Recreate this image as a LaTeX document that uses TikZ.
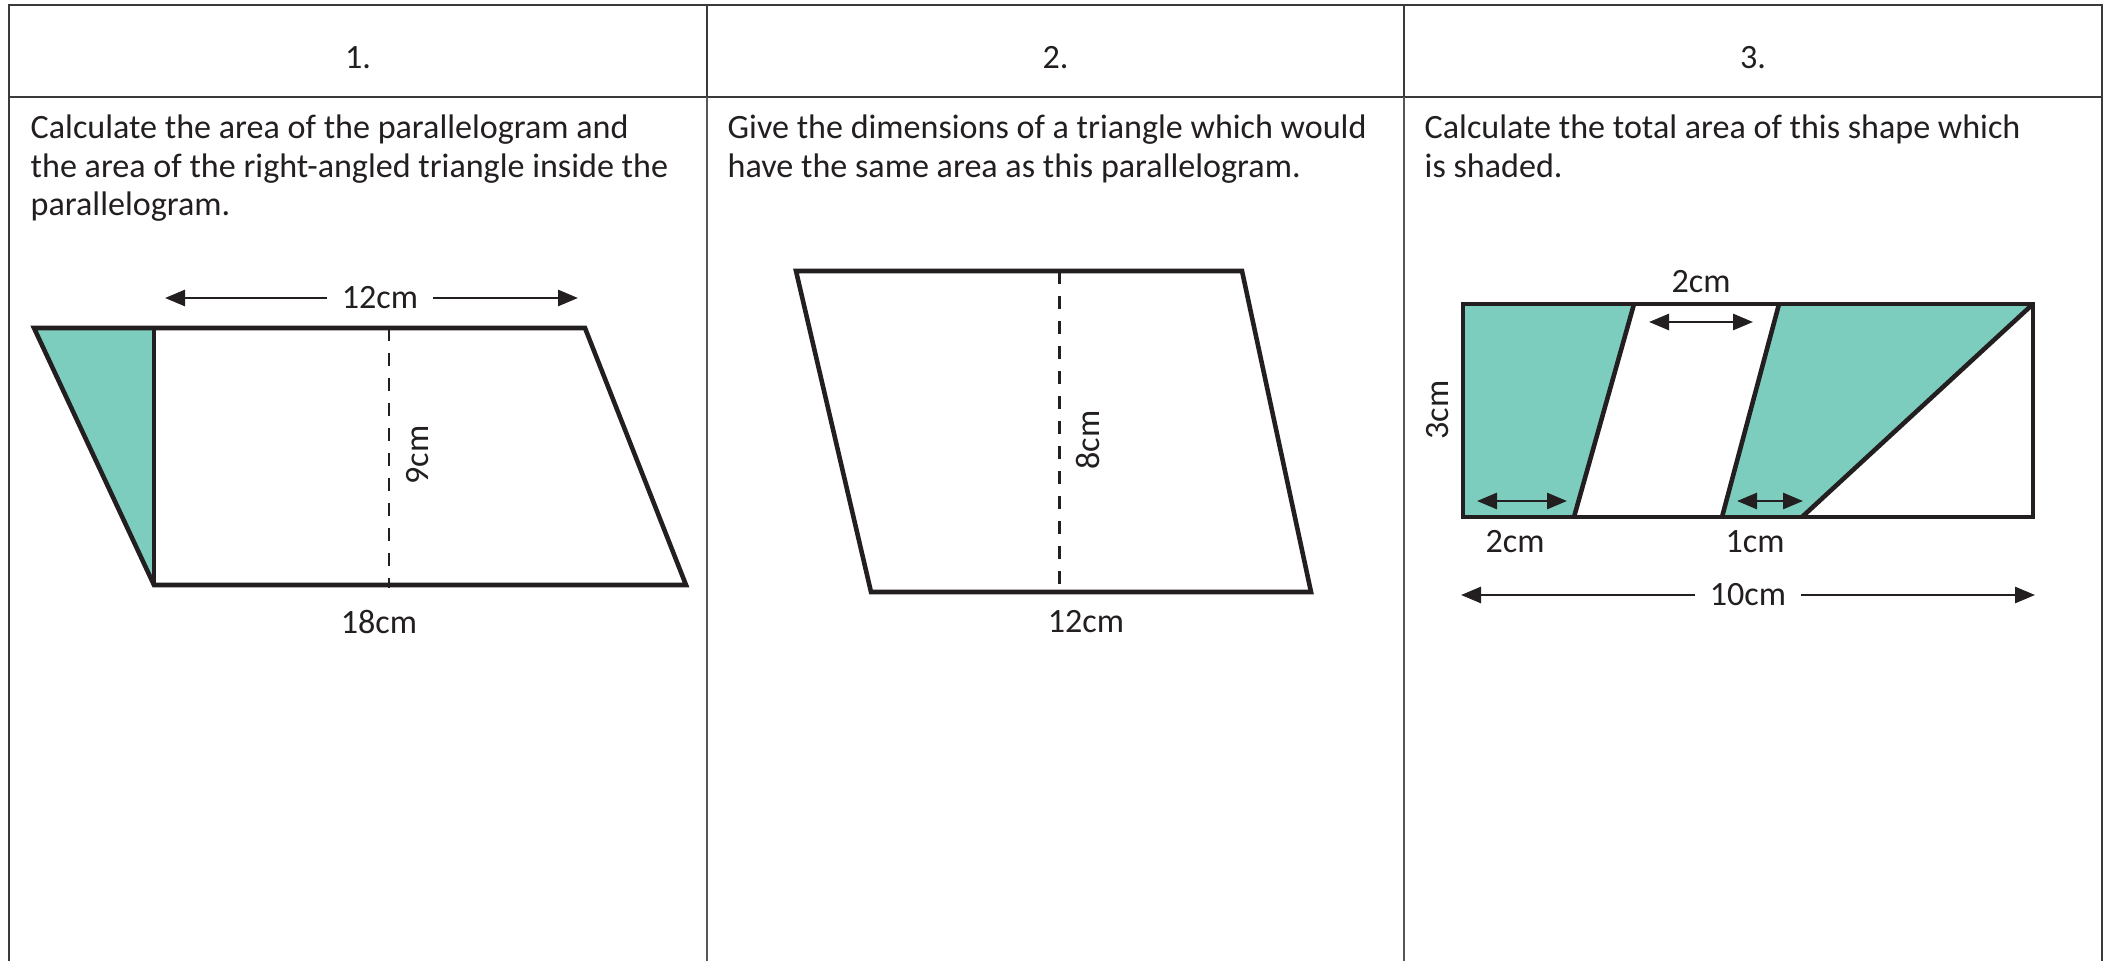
\documentclass[tikz,border=0pt]{standalone}
\usepackage{fontspec}
\setmainfont{Carlito}
\usetikzlibrary{arrows.meta}
\definecolor{inkdark}{HTML}{231F20}
\definecolor{shadeteal}{HTML}{7DCDBE}
\definecolor{rulegrey}{HTML}{3A3A3A}
\newcommand{\qfont}{\fontsize{9.7pt}{11pt}\selectfont}
\tikzset{
  outline/.style={draw=inkdark, line width=1.3pt, line join=miter},
  shaded/.style={fill=shadeteal},
  heightline/.style={draw=inkdark, line width=0.6pt, dash pattern=on 0.13cm off 0.12cm},
  dimarrow/.style={draw=inkdark, line width=0.8pt, -{Triangle[length=0.2cm, width=0.16cm]}},
  bothways/.style={draw=inkdark, line width=0.8pt,
    {Triangle[length=0.2cm, width=0.16cm]}-{Triangle[length=0.2cm, width=0.16cm]}},
  dimlabel/.style={font=\qfont, text=inkdark, inner sep=0.14cm},
  qline/.style={font=\qfont, text=inkdark, anchor=base west, inner sep=0},
}

\begin{document}
\begin{tikzpicture}[x=0.1mm, y=-0.1mm]
  \useasboundingbox (0,0) rectangle (2109,961);
  % table frame
  \draw[rulegrey, line width=0.6pt] (9,961) -- (9,5) -- (2102,5) -- (2102,961);
  \draw[rulegrey, line width=0.6pt] (9,97) -- (2102,97);
  \foreach \cx in {707,1404}{%
    \draw[rulegrey, line width=0.6pt] (\cx,5) -- (\cx,97);
    \draw[rulegrey!85, line width=0.35pt] (\cx,97) -- (\cx,961);}
  \foreach \n/\cx in {1/358, 2/1055.5, 3/1753}{%
    \node[font=\qfont, text=inkdark] (head\n) at (\cx,58) {\n.};}

  % questions
  \foreach \ln [count=\i] in {Calculate the area of the parallelogram and,
      the area of the right-angled triangle inside the, parallelogram.}{%
    \node[qline] (qa\i) at (30,{139+38.5*(\i-1)}) {\ln};}
  \foreach \ln [count=\i] in {Give the dimensions of a triangle which would,
      have the same area as this parallelogram.}{%
    \node[qline] (qb\i) at (727,{139+38.5*(\i-1)}) {\ln};}
  \foreach \ln [count=\i] in {Calculate the total area of this shape which,
      is shaded.}{%
    \node[qline] (qc\i) at (1424,{139+38.5*(\i-1)}) {\ln};}

  % shape 1
  \coordinate (pa1) at (34,328);
  \coordinate (pa2) at (585,328);
  \coordinate (pa3) at (686,585);
  \coordinate (pa4) at (154,585);
  \coordinate (pa5) at (154,328);
  \fill[shaded] (pa1) -- (pa5) -- (pa4) -- cycle;
  \draw[outline] (pa1) -- (pa2) -- (pa3) -- (pa4) -- cycle;
  \draw[outline] (pa5) -- (pa4);
  \coordinate (hat) at (389,328);
  \coordinate (hab) at (389,588);
  \draw[heightline] (hat) -- (hab);
  \node[dimlabel, rotate=90] (ha9) at (418,455) {9cm};
  \node[dimlabel] (wa12) at (380,298) {12cm};
  \coordinate (wa12l) at (165,298);
  \coordinate (wa12r) at (578,298);
  \draw[dimarrow] (wa12.west) -- (wa12l);
  \draw[dimarrow] (wa12.east) -- (wa12r);
  \node[dimlabel] (ba18) at (379,622) {18cm};

  % shape 2
  \coordinate (pb1) at (796,271);
  \coordinate (pb2) at (1242,271);
  \coordinate (pb3) at (1311,592);
  \coordinate (pb4) at (871,592);
  \draw[outline] (pb1) -- (pb2) -- (pb3) -- (pb4) -- cycle;
  \coordinate (hbt) at (1059.5,271);
  \coordinate (hbb) at (1059.5,592);
  \draw[heightline] (hbt) -- (hbb);
  \node[dimlabel, rotate=90] (hb8) at (1088,440) {8cm};
  \node[dimlabel] (bb12) at (1086,622) {12cm};

  % shape 3
  \coordinate (rc1) at (1463,304);
  \coordinate (rc2) at (2033,304);
  \coordinate (rc3) at (2033,517);
  \coordinate (rc4) at (1463,517);
  \coordinate (sa) at (1634,304);
  \coordinate (sb) at (1574,517);
  \coordinate (sc) at (1779,304);
  \coordinate (sd) at (1722,517);
  \coordinate (se) at (1802,517);
  \fill[shaded] (rc1) -- (sa) -- (sb) -- (rc4) -- cycle;
  \fill[shaded] (sc) -- (rc2) -- (se) -- (sd) -- cycle;
  \draw[outline] (rc1) -- (rc2) -- (rc3) -- (rc4) -- cycle;
  \draw[outline] (sa) -- (sb);
  \draw[outline] (sc) -- (sd);
  \draw[outline] (rc2) -- (se);
  \coordinate (gt1) at (1649,322);
  \coordinate (gt2) at (1753,322);
  \draw[bothways] (gt1) -- (gt2);
  \node[dimlabel] (gt) at (1701,282) {2cm};
  \coordinate (gl1) at (1477,501);
  \coordinate (gl2) at (1567,501);
  \draw[bothways] (gl1) -- (gl2);
  \node[dimlabel] (gl) at (1515,542) {2cm};
  \coordinate (gm1) at (1737,501);
  \coordinate (gm2) at (1803,501);
  \draw[bothways] (gm1) -- (gm2);
  \node[dimlabel] (gm) at (1755,542) {1cm};
  \node[dimlabel, rotate=90] (hc3) at (1438,410) {3cm};
  \node[dimlabel] (wc10) at (1748,595) {10cm};
  \coordinate (wc10l) at (1461,595);
  \coordinate (wc10r) at (2035,595);
  \draw[dimarrow] (wc10.west) -- (wc10l);
  \draw[dimarrow] (wc10.east) -- (wc10r);
\end{tikzpicture}
\end{document}
